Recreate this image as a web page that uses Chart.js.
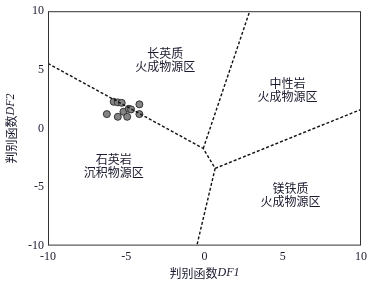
<!DOCTYPE html>
<html>
<head>
<meta charset="utf-8">
<script src="https://cdn.jsdelivr.net/npm/chart.js@4/dist/chart.umd.min.js"></script>
<style>
  html, body { margin: 0; padding: 0; background: #fff; }
  #wrap { width: 371px; height: 283px; }
</style>
</head>
<body>
<div id="wrap"><canvas id="dfChart"></canvas></div>
<script>
// sample points (DF1, DF2)
const sampleDF1 = [-6.24, -5.8, -5.54, -5.29, -5.54, -5.18, -4.94, -4.84, -4.69, -4.16, -4.16];
const sampleDF2 = [1.22, 2.27, 2.22, 2.18, 0.99, 1.42, 0.99, 1.67, 1.62, 2.05, 1.22];

// field boundaries
const boundaryA = [[-10, 5.54], [-0.08, -1.71], [0.68, -3.41]];
const boundaryB = [[-0.08, -1.71], [2.89, 10]];
const boundaryC = [[0.68, -3.41], [10, 1.62]];
const boundaryD = [[0.68, -3.41], [-0.49, -10]];

// region labels
const regionNames = [
  ["长英质", "火成物源区"],
  ["中性岩", "火成物源区"],
  ["石英岩", "沉积物源区"],
  ["镁铁质", "火成物源区"],
];
const regionAt = [[-2.5, 5.8], [5.3, 3.3], [-5.8, -3.2], [5.5, -5.7]];

const xTicks = [-10, -5, 0, 5, 10];
const yTicks = [-10, -5, 0, 5, 10];

const serif = "'Liberation Serif', 'Noto Sans CJK SC', serif";
const cjk = "'Noto Sans CJK SC', 'Liberation Serif', serif";
const textColor = "#1a1a2e";

const toXY = (arr) => arr.map((p) => ({ x: p[0], y: p[1] }));

const lineSet = (pts) => ({
  data: toXY(pts),
  showLine: true,
  borderColor: "#111",
  borderWidth: 1.4,
  borderDash: [3, 2],
  pointRadius: 0,
  fill: false,
});

const regionLabels = {
  id: "regionLabels",
  afterDatasetsDraw(chart) {
    const { ctx, scales } = chart;
    ctx.save();
    ctx.fillStyle = textColor;
    ctx.font = "12px " + cjk;
    ctx.textAlign = "center";
    ctx.textBaseline = "middle";
    regionNames.forEach((lines, i) => {
      const px = scales.x.getPixelForValue(regionAt[i][0]);
      const py = scales.y.getPixelForValue(regionAt[i][1]);
      lines.forEach((t, j) => {
        ctx.fillText(t, px, py + (j - 0.5) * 13);
      });
    });
    ctx.restore();
  },
};

// axis titles with italic DF part
const axisTitles = {
  id: "axisTitles",
  afterDraw(chart) {
    const { ctx, chartArea } = chart;
    const drawTitle = (cn, it) => {
      ctx.font = "12px " + cjk;
      const w1 = ctx.measureText(cn).width;
      ctx.font = "italic 12px " + serif;
      const w2 = ctx.measureText(it).width;
      const start = -(w1 + w2) / 2;
      ctx.textAlign = "left";
      ctx.textBaseline = "middle";
      ctx.font = "12px " + cjk;
      ctx.fillText(cn, start, 0);
      ctx.font = "italic 12px " + serif;
      ctx.fillText(it, start + w1, 0);
    };
    ctx.save();
    ctx.fillStyle = textColor;
    ctx.translate((chartArea.left + chartArea.right) / 2, 273);
    drawTitle("判别函数", "DF1");
    ctx.restore();
    ctx.save();
    ctx.fillStyle = textColor;
    ctx.translate(11, (chartArea.top + chartArea.bottom) / 2);
    ctx.rotate(-Math.PI / 2);
    drawTitle("判别函数", "DF2");
    ctx.restore();
    // frame
    ctx.save();
    ctx.strokeStyle = "#333";
    ctx.lineWidth = 1;
    ctx.strokeRect(chartArea.left + 0.5, chartArea.top + 0.5,
      chartArea.right - chartArea.left - 1, chartArea.bottom - chartArea.top - 1);
    ctx.restore();
  },
};

new Chart(document.getElementById("dfChart"), {
  type: "scatter",
  data: {
    datasets: [
      lineSet(boundaryA),
      lineSet(boundaryB),
      lineSet(boundaryC),
      lineSet(boundaryD),
      {
        data: sampleDF1.map((x, i) => ({ x: x, y: sampleDF2[i] })),
        backgroundColor: "#848484",
        borderColor: "#333",
        borderWidth: 1,
        pointRadius: 3.5,
      },
    ],
  },
  options: {
    responsive: true,
    maintainAspectRatio: false,
    animation: false,
    layout: { padding: { top: 6, right: 7, bottom: 15, left: 24 } },
    plugins: { legend: { display: false }, tooltip: { enabled: false } },
    scales: {
      x: {
        type: "linear",
        min: -10,
        max: 10,
        afterBuildTicks: (axis) => { axis.ticks = xTicks.map((v) => ({ value: v })); },
        grid: { display: false, drawTicks: false },
        border: { display: false },
        ticks: { color: textColor, font: { family: serif, size: 12 }, padding: 4, maxRotation: 0 },
      },
      y: {
        type: "linear",
        min: -10,
        max: 10,
        afterBuildTicks: (axis) => { axis.ticks = yTicks.map((v) => ({ value: v })); },
        grid: { display: false, drawTicks: false },
        border: { display: false },
        ticks: { color: textColor, font: { family: serif, size: 12 }, padding: 4 },
      },
    },
  },
  plugins: [regionLabels, axisTitles],
});
</script>
</body>
</html>
